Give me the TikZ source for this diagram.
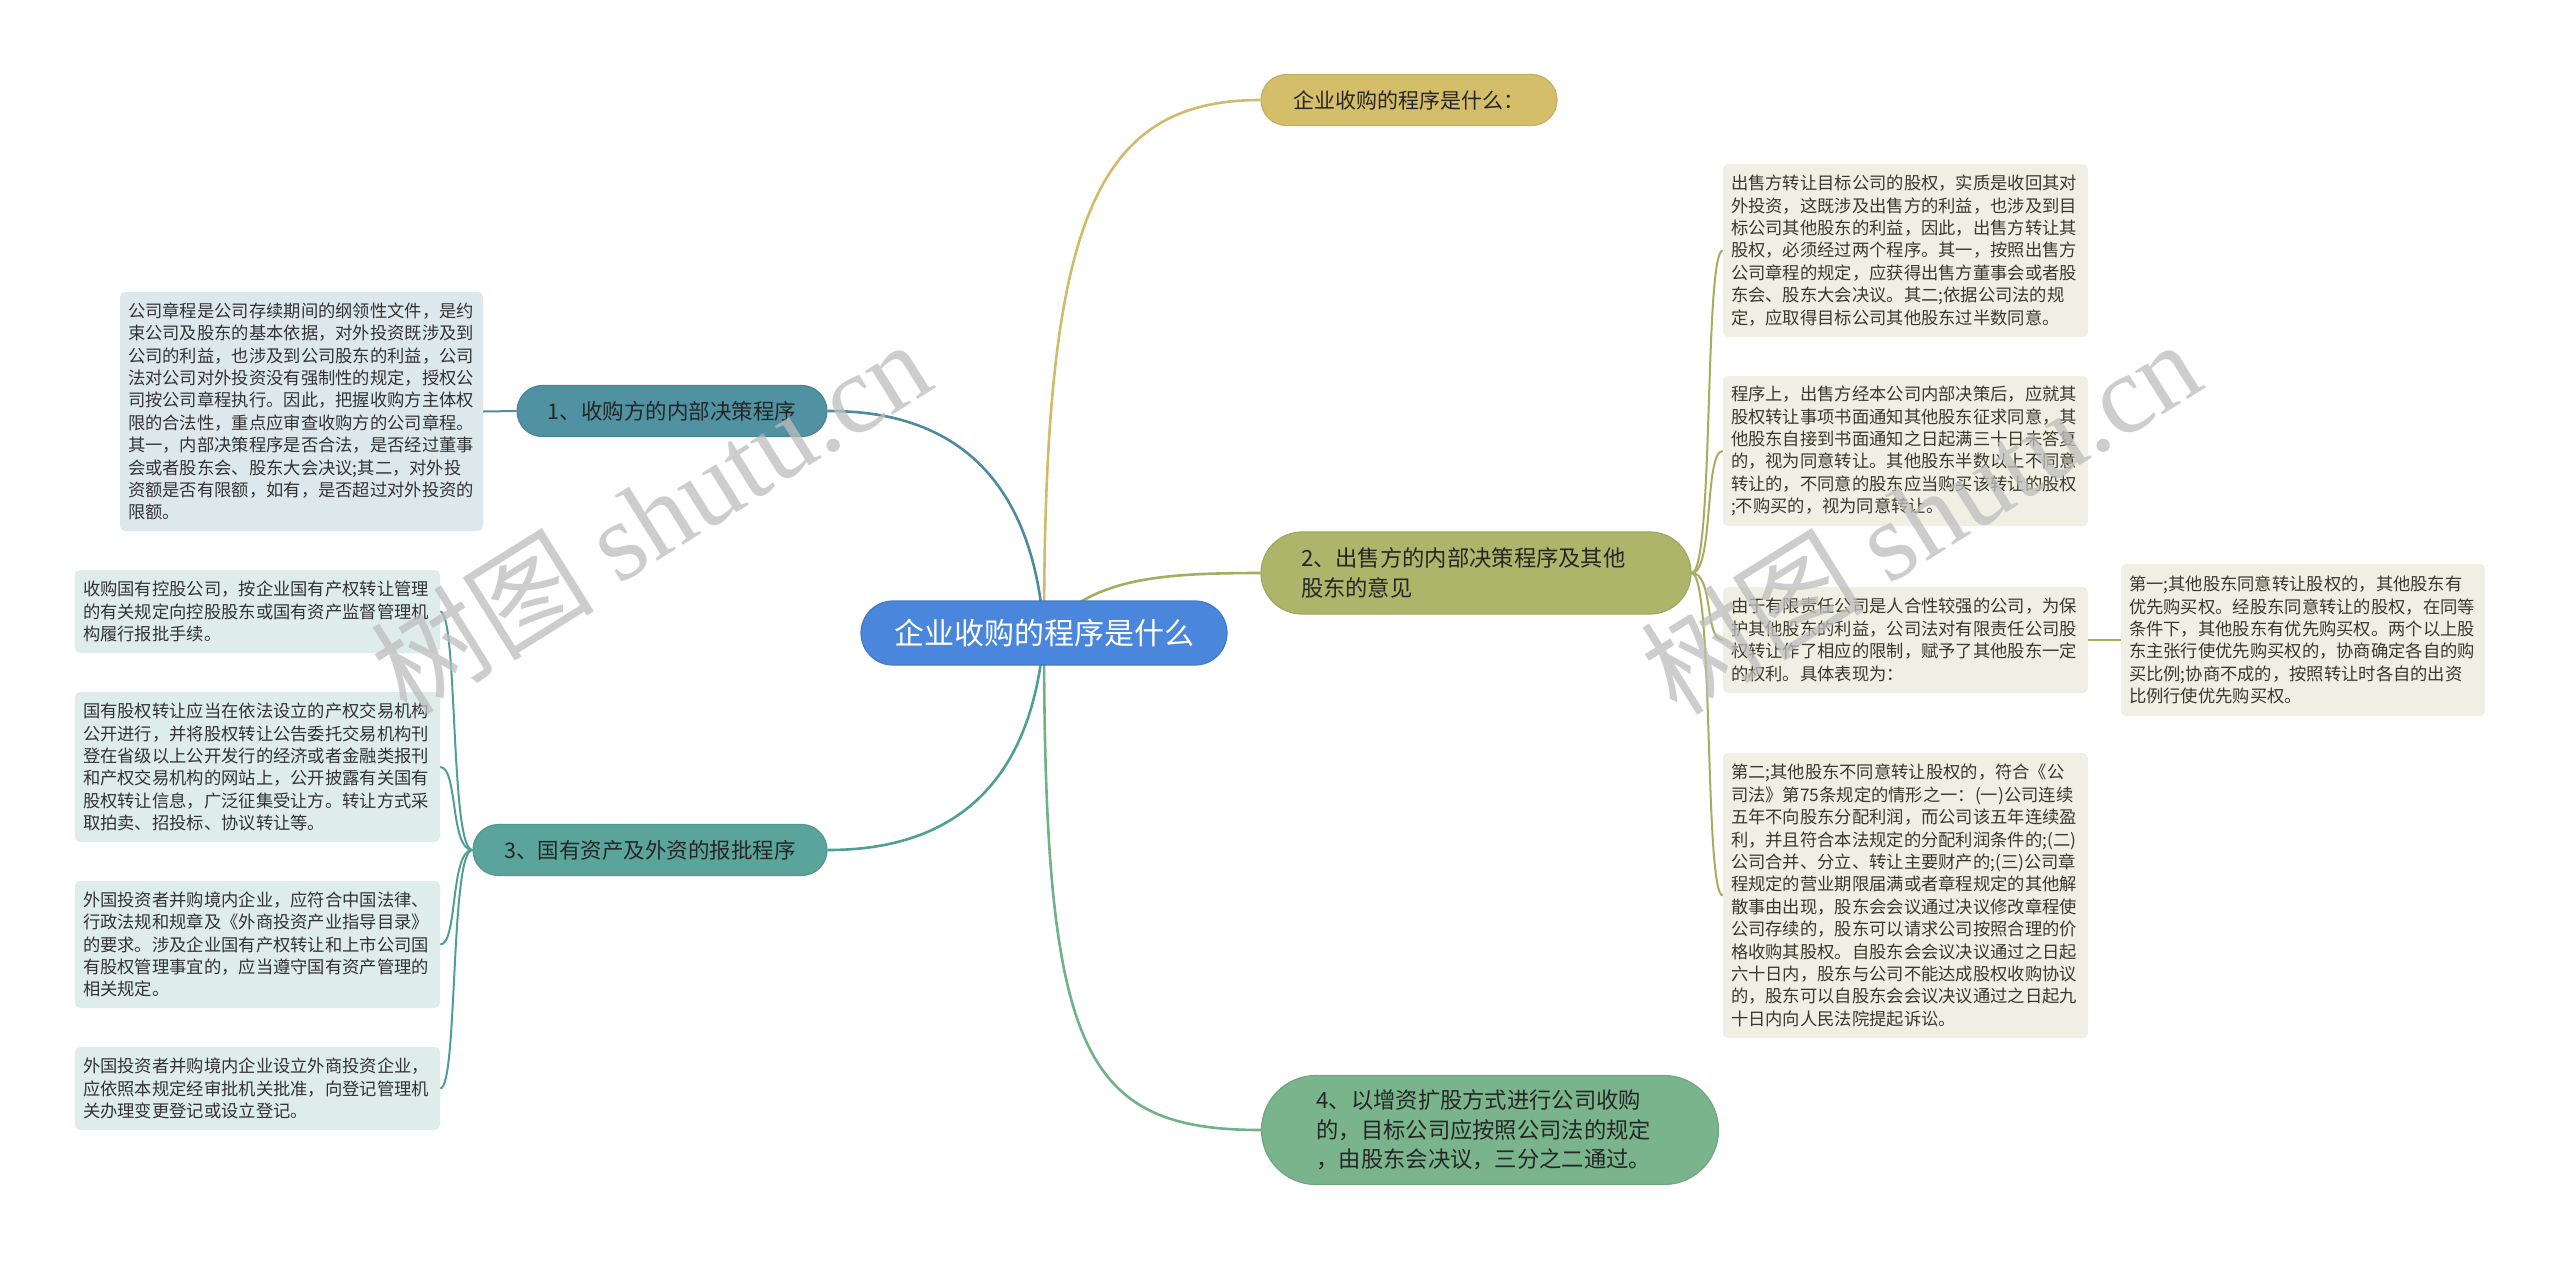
\documentclass[tikz,border=0pt]{standalone}
\usepackage{fontspec}
\setmainfont{Noto Sans CJK SC}
\newfontfamily\wmlatin{Liberation Serif}
\usetikzlibrary{shapes.misc}
\definecolor{cblue}{HTML}{4A86DB}
\definecolor{cgold}{HTML}{D4BE6A}
\definecolor{colive}{HTML}{ADB56B}
\definecolor{cgreen}{HTML}{79B48C}
\definecolor{cteal}{HTML}{5091A2}
\definecolor{cteal3}{HTML}{5BA49B}
\definecolor{lgold}{HTML}{D2BB68}
\definecolor{lolive}{HTML}{A5AE5E}
\definecolor{lgreen}{HTML}{72B088}
\definecolor{lteal}{HTML}{4E8B9E}
\definecolor{lteal3}{HTML}{4F9F95}
\definecolor{fblue}{HTML}{DDE8ED}
\definecolor{fteal}{HTML}{DEEDEA}
\definecolor{folive}{HTML}{EFF0E3}
\definecolor{tdark}{HTML}{333333}
\definecolor{tolive}{HTML}{3A3A2C}
\definecolor{wmgray}{HTML}{BDBDBD}
\pgfdeclarelayer{bg}
\pgfdeclarelayer{lines}
\pgfsetlayers{bg,lines,main}
\begin{document}
\begin{tikzpicture}[x=1pt,y=-1pt,
  leaf/.style={rounded corners=5pt, inner xsep=8pt, inner ysep=0pt, align=left,
    font=\fontsize{17.3}{22.4}\selectfont, text=tdark, anchor=center},
  topic/.style={rounded rectangle, inner sep=0pt, text=black!85,
    font=\fontsize{21.5}{30}\selectfont, line width=1.2pt},
  mainlink/.style={line width=2.6pt},
  leaflink/.style={line width=2pt},
  wm/.style={rotate=32, text=wmgray, text opacity=0.75, anchor=center, inner sep=0pt}
]
\begin{pgfonlayer}{bg}
\fill[white] (0,0) rectangle (2560,1262);
\end{pgfonlayer}
\useasboundingbox (0,0) rectangle (2560,1262);

% main nodes
\node[topic, fill=cblue, draw=cblue!90!black, text=white, minimum width=366pt, minimum height=64pt,
  font=\fontsize{30}{34}\selectfont] (c) at (1044,633) {企业收购的程序是什么};
\node[topic, fill=cgold, draw=cgold!92!black, minimum width=296pt, minimum height=51pt,
  font=\fontsize{21}{26}\selectfont] (top) at (1409,100) {企业收购的程序是什么：};
\node[topic, fill=colive, draw=colive!92!black, minimum width=430pt, minimum height=82pt,
  text width=350pt, align=left, font=\fontsize{22.3}{30.5}\selectfont] (n2) at (1476,573)
  {2、出售方的内部决策程序及其他\\股东的意见};
\node[topic, fill=cgreen, draw=cgreen!92!black, minimum width=457pt, minimum height=109pt,
  text width=347pt, align=left, font=\fontsize{22.3}{29.5}\selectfont] (n4) at (1490,1130)
  {4、以增资扩股方式进行公司收购\\的，目标公司应按照公司法的规定\\，由股东会决议，三分之二通过。};
\node[topic, fill=cteal, draw=cteal!92!black, minimum width=310pt, minimum height=51pt] (n1) at (672,411)
  {1、收购方的内部决策程序};
\node[topic, fill=cteal3, draw=cteal3!92!black, minimum width=354pt, minimum height=51pt] (n3) at (650,850)
  {3、国有资产及外资的报批程序};

% left leaves
\node[leaf, fill=fblue, text width=347pt, minimum height=239pt] (l1) at (301.5,411.5)
{公司章程是公司存续期间的纲领性文件，是约\\
束公司及股东的基本依据，对外投资既涉及到\\
公司的利益，也涉及到公司股东的利益，公司\\
法对公司对外投资没有强制性的规定，授权公\\
司按公司章程执行。因此，把握收购方主体权\\
限的合法性，重点应审查收购方的公司章程。\\
其一，内部决策程序是否合法，是否经过董事\\
会或者股东会、股东大会决议;其二，对外投\\
资额是否有限额，如有，是否超过对外投资的\\
限额。};

\node[leaf, fill=fteal, text width=349pt, minimum height=83pt] (l3a) at (257.5,611.5)
{收购国有控股公司，按企业国有产权转让管理\\
的有关规定向控股股东或国有资产监督管理机\\
构履行报批手续。};
\node[leaf, fill=fteal, text width=349pt, minimum height=150pt] (l3b) at (257.5,767)
{国有股权转让应当在依法设立的产权交易机构\\
公开进行，并将股权转让公告委托交易机构刊\\
登在省级以上公开发行的经济或者金融类报刊\\
和产权交易机构的网站上，公开披露有关国有\\
股权转让信息，广泛征集受让方。转让方式采\\
取拍卖、招投标、协议转让等。};
\node[leaf, fill=fteal, text width=349pt, minimum height=127pt] (l3c) at (257.5,944.5)
{外国投资者并购境内企业，应符合中国法律、\\
行政法规和规章及《外商投资产业指导目录》\\
的要求。涉及企业国有产权转让和上市公司国\\
有股权管理事宜的，应当遵守国有资产管理的\\
相关规定。};
\node[leaf, fill=fteal, text width=349pt, minimum height=83pt] (l3d) at (257.5,1088.5)
{外国投资者并购境内企业设立外商投资企业，\\
应依照本规定经审批机关批准，向登记管理机\\
关办理变更登记或设立登记。};

% right leaves
\node[leaf, fill=folive, text=tolive, text width=349pt, minimum height=173pt] (r1) at (1905.5,250.5)
{出售方转让目标公司的股权，实质是收回其对\\
外投资，这既涉及出售方的利益，也涉及到目\\
标公司其他股东的利益，因此，出售方转让其\\
股权，必须经过两个程序。其一，按照出售方\\
公司章程的规定，应获得出售方董事会或者股\\
东会、股东大会决议。其二;依据公司法的规\\
定，应取得目标公司其他股东过半数同意。};
\node[leaf, fill=folive, text=tolive, text width=349pt, minimum height=150pt] (r2) at (1905.5,451)
{程序上，出售方经本公司内部决策后，应就其\\
股权转让事项书面通知其他股东征求同意，其\\
他股东自接到书面通知之日起满三十日未答复\\
的，视为同意转让。其他股东半数以上不同意\\
转让的，不同意的股东应当购买该转让的股权\\
;不购买的，视为同意转让。};
\node[leaf, fill=folive, text=tolive, text width=349pt, minimum height=106pt] (r3) at (1905.5,640)
{由于有限责任公司是人合性较强的公司，为保\\
护其他股东的利益，公司法对有限责任公司股\\
权转让作了相应的限制，赋予了其他股东一定\\
的权利。具体表现为：};
\node[leaf, fill=folive, text=tolive, text width=349pt, minimum height=285pt] (r4) at (1905.5,895.5)
{第二;其他股东不同意转让股权的，符合《公\\
司法》第75条规定的情形之一：(一)公司连续\\
五年不向股东分配利润，而公司该五年连续盈\\
利，并且符合本法规定的分配利润条件的;(二)\\
公司合并、分立、转让主要财产的;(三)公司章\\
程规定的营业期限届满或者章程规定的其他解\\
散事由出现，股东会会议通过决议修改章程使\\
公司存续的，股东可以请求公司按照合理的价\\
格收购其股权。自股东会会议决议通过之日起\\
六十日内，股东与公司不能达成股权收购协议\\
的，股东可以自股东会会议决议通过之日起九\\
十日内向人民法院提起诉讼。};
\node[leaf, fill=folive, text=tolive, text width=348pt, minimum height=152pt] (r3c) at (2303,640)
{第一;其他股东同意转让股权的，其他股东有\\
优先购买权。经股东同意转让的股权，在同等\\
条件下，其他股东有优先购买权。两个以上股\\
东主张行使优先购买权的，协商确定各自的购\\
买比例;协商不成的，按照转让时各自的出资\\
比例行使优先购买权。};

\begin{pgfonlayer}{lines}
\draw[mainlink, lgold] (c.center) .. controls (1044,230) and (1090,100) .. (top.west);
\draw[mainlink, lteal] (c.center) .. controls (1030,430) and (900,411) .. (n1.east);
\draw[mainlink, lteal3] (c.center) .. controls (1030,830) and (900,850) .. (n3.east);
\draw[mainlink, lolive] (c.center) .. controls (1090,580) and (1150,573) .. (n2.west);
\draw[mainlink, lgreen] (c.center) .. controls (1044,1050) and (1080,1130) .. (n4.west);
% node 1 leaf
\draw[leaflink, lteal] (n1.west) -- (l1.east);
% node 3 leaves
\draw[leaflink, lteal3] (n3.west) .. controls (450,850) and (458,611.5) .. (l3a.east);
\draw[leaflink, lteal3] (n3.west) .. controls (450,850) and (458,767) .. (l3b.east);
\draw[leaflink, lteal3] (n3.west) .. controls (450,850) and (458,944.5) .. (l3c.east);
\draw[leaflink, lteal3] (n3.west) .. controls (450,850) and (458,1088.5) .. (l3d.east);
% node 2 leaves
\draw[leaflink, lolive] (n2.east) .. controls (1714,573) and (1704,250.5) .. (r1.west);
\draw[leaflink, lolive] (n2.east) .. controls (1714,573) and (1704,451) .. (r2.west);
\draw[leaflink, lolive] (n2.east) .. controls (1714,573) and (1704,640) .. (r3.west);
\draw[leaflink, lolive] (n2.east) .. controls (1714,573) and (1704,895.5) .. (r4.west);
\draw[leaflink, lolive] (r3.east) -- (r3c.west);
\end{pgfonlayer}

% watermarks
\node[wm] (wm1) at (650,516) {\fontsize{112}{112}\selectfont 树图 {\wmlatin shutu.cn}};
\node[wm] (wm2) at (1920,516) {\fontsize{112}{112}\selectfont 树图 {\wmlatin shutu.cn}};
\end{tikzpicture}
\end{document}
